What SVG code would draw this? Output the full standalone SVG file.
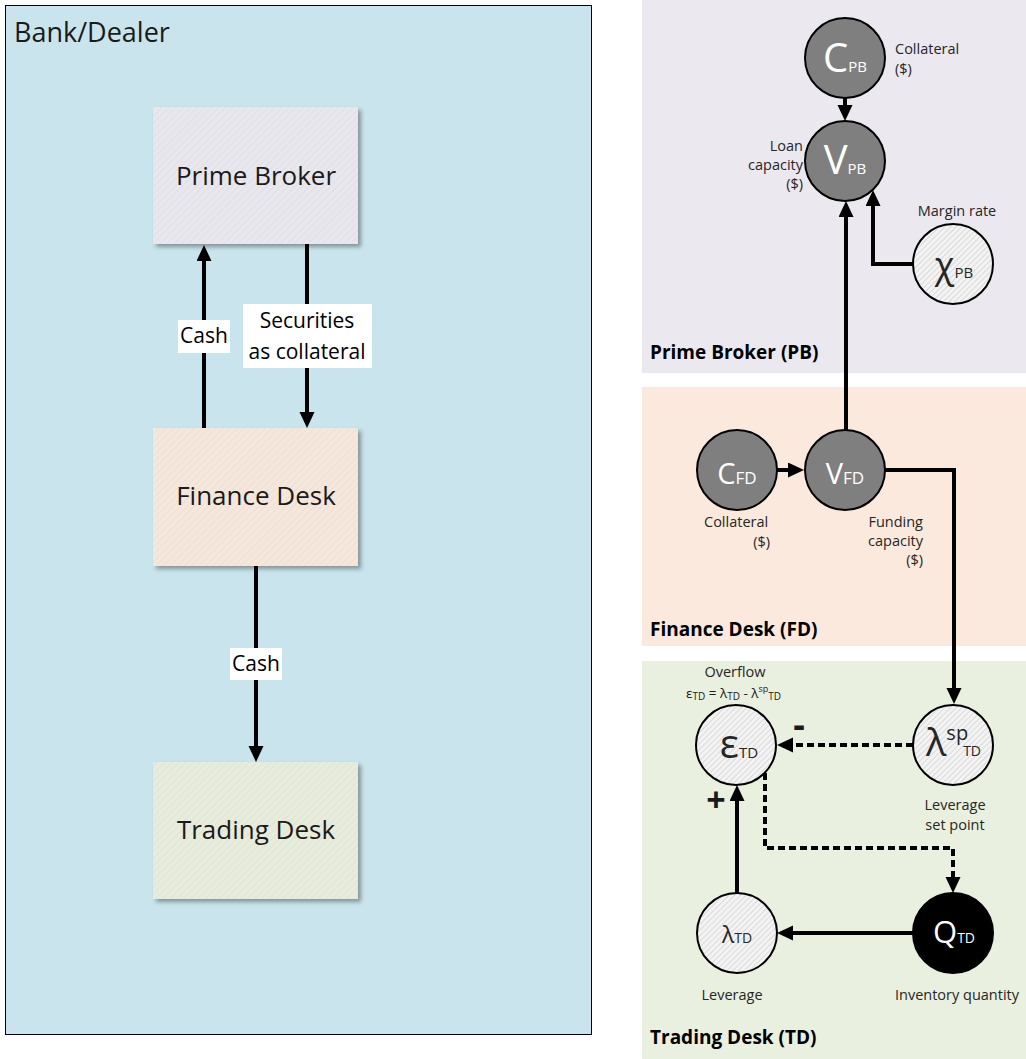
<svg xmlns="http://www.w3.org/2000/svg" width="1026" height="1059" viewBox="0 0 1026 1059">
  <defs>
    <style>
      text { font-family: "Open Sans", "Noto Sans", "DejaVu Sans", sans-serif; fill: #1a1a1a; }
      .box-label { font-size: 26px; text-anchor: middle; }
      .edge-label { font-size: 21px; text-anchor: middle; fill: #000; }
      .panel-title { font-size: 19px; font-weight: bold; fill: #000; }
      .note { font-size: 14.5px; fill: #262626; }
      .mid { text-anchor: middle; }
      .end { text-anchor: end; }
      .conn { fill: none; stroke: #000; stroke-width: 4; }
      .dash { stroke-dasharray: 7 4; }
      .dark { fill: #7f7f7f; stroke: #000; stroke-width: 2; }
      .black { fill: #000; stroke: #000; stroke-width: 2; }
      .light { fill: url(#hatch); stroke: #000; stroke-width: 2; }
      .wlet { fill: #fff; }
      .glet { fill: #262626; }
    </style>
    <!-- diagonal hatch fills -->
    <pattern id="hatch" width="4" height="4" patternUnits="userSpaceOnUse" patternTransform="rotate(45)">
      <rect width="4" height="4" fill="#f3f3f3"/>
      <line x1="0" y1="0" x2="0" y2="4" stroke="#c6c6c6" stroke-width="1.1"/>
    </pattern>
    <pattern id="hatchPB" width="5" height="5" patternUnits="userSpaceOnUse" patternTransform="rotate(45)">
      <rect width="5" height="5" fill="#e9e7ee"/>
      <line x1="0" y1="0" x2="0" y2="5" stroke="#dedbe4" stroke-width="1.5"/>
    </pattern>
    <pattern id="hatchFD" width="5" height="5" patternUnits="userSpaceOnUse" patternTransform="rotate(45)">
      <rect width="5" height="5" fill="#f6e7dd"/>
      <line x1="0" y1="0" x2="0" y2="5" stroke="#ecdcd1" stroke-width="1.5"/>
    </pattern>
    <pattern id="hatchTD" width="5" height="5" patternUnits="userSpaceOnUse" patternTransform="rotate(45)">
      <rect width="5" height="5" fill="#e8ecdd"/>
      <line x1="0" y1="0" x2="0" y2="5" stroke="#dde2d0" stroke-width="1.5"/>
    </pattern>
    <filter id="shadow" x="-10%" y="-10%" width="125%" height="125%">
      <feDropShadow dx="3" dy="3" stdDeviation="2" flood-color="#000" flood-opacity="0.35"/>
    </filter>
    <marker id="arrow" markerUnits="userSpaceOnUse" markerWidth="17" markerHeight="16" refX="1" refY="7.5" orient="auto">
      <path d="M0,0 L16,7.5 L0,15 z" fill="#000"/>
    </marker>
  </defs>

  <!-- ===== Left: Bank/Dealer overview ===== -->
  <g id="bank-dealer">
    <rect x="5.5" y="5.5" width="586" height="1029" fill="#c9e4ec" stroke="#000" stroke-width="1"/>
    <text x="14" y="42" font-size="27">Bank/Dealer</text>
  </g>

  <g id="box-prime-broker">
    <rect x="153" y="107" width="205" height="137" fill="url(#hatchPB)" filter="url(#shadow)"/>
    <text class="box-label" x="256" y="185">Prime Broker</text>
  </g>
  <g id="box-finance-desk">
    <rect x="153" y="428" width="205" height="138" fill="url(#hatchFD)" filter="url(#shadow)"/>
    <text class="box-label" x="256" y="505">Finance Desk</text>
  </g>
  <g id="box-trading-desk">
    <rect x="153" y="762" width="205" height="137" fill="url(#hatchTD)" filter="url(#shadow)"/>
    <text class="box-label" x="256" y="839">Trading Desk</text>
  </g>

  <g id="left-connectors">
    <line class="conn" x1="204" y1="428" x2="204" y2="260" marker-end="url(#arrow)"/>
    <line class="conn" x1="307" y1="244" x2="307" y2="413" marker-end="url(#arrow)"/>
    <line class="conn" x1="256" y1="566" x2="256" y2="747" marker-end="url(#arrow)"/>
    <rect x="178" y="320" width="52" height="33" fill="#fff"/>
    <text class="edge-label" x="204" y="343">Cash</text>
    <rect x="243" y="304" width="129" height="64" fill="#fff"/>
    <text class="edge-label" x="307" y="328">Securities</text>
    <text class="edge-label" x="307" y="359">as collateral</text>
    <rect x="230" y="648" width="52" height="32" fill="#fff"/>
    <text class="edge-label" x="256" y="671">Cash</text>
  </g>

  <!-- ===== Right: desk panels ===== -->
  <g id="panel-pb">
    <rect x="642" y="0" width="384" height="373" fill="#ebe8f0"/>
    <text class="panel-title" x="650" y="359">Prime Broker (PB)</text>
  </g>
  <g id="panel-fd">
    <rect x="642" y="387" width="384" height="259" fill="#fbe9dd"/>
    <text class="panel-title" x="650" y="636">Finance Desk (FD)</text>
  </g>
  <g id="panel-td">
    <rect x="642" y="661" width="384" height="398" fill="#e9f0df"/>
    <text class="panel-title" x="650" y="1044">Trading Desk (TD)</text>
  </g>

  <!-- connectors between state variables -->
  <g id="right-connectors">
    <line class="conn" x1="845" y1="98" x2="845" y2="106" marker-end="url(#arrow)"/>
    <line class="conn" x1="846" y1="430" x2="846" y2="216" marker-end="url(#arrow)"/>
    <polyline class="conn" points="913,264 873,264 873,205" marker-end="url(#arrow)"/>
    <line class="conn" x1="777" y1="470" x2="789" y2="470" marker-end="url(#arrow)"/>
    <polyline class="conn" points="885,470 954,470 954,689" marker-end="url(#arrow)"/>
    <line class="conn dash" x1="913" y1="745" x2="792" y2="745" marker-end="url(#arrow)"/>
    <polyline class="conn dash" points="765,773 765,848 953,848 953,878" marker-end="url(#arrow)"/>
    <line class="conn" x1="913" y1="933" x2="792" y2="933" marker-end="url(#arrow)"/>
    <line class="conn" x1="737" y1="893" x2="737" y2="800" marker-end="url(#arrow)"/>
    <text x="799" y="737" font-size="36" font-weight="bold" fill="#000" text-anchor="middle">-</text>
    <text x="716" y="812" font-size="34" font-weight="bold" fill="#000" text-anchor="middle">+</text>
  </g>

  <!-- Prime Broker variables -->
  <g id="node-c-pb">
    <circle class="dark" cx="845" cy="58" r="40"/>
    <text class="wlet" x="845" y="72" text-anchor="middle"><tspan font-size="40">C</tspan><tspan font-size="15">PB</tspan></text>
    <text class="note" x="895" y="54">Collateral</text>
    <text class="note" x="895" y="74">($)</text>
  </g>
  <g id="node-v-pb">
    <circle class="dark" cx="845" cy="161" r="40"/>
    <text class="wlet" x="845" y="174" text-anchor="middle"><tspan font-size="40">V</tspan><tspan font-size="15">PB</tspan></text>
    <text class="note end" x="803" y="151">Loan</text>
    <text class="note end" x="803" y="170">capacity</text>
    <text class="note end" x="803" y="189">($)</text>
  </g>
  <g id="node-chi-pb">
    <circle class="light" cx="953" cy="264" r="40"/>
    <text class="glet" x="954" y="278" text-anchor="middle"><tspan font-size="36">χ</tspan><tspan font-size="15">PB</tspan></text>
    <text class="note mid" x="957" y="216">Margin rate</text>
  </g>

  <!-- Finance Desk variables -->
  <g id="node-c-fd">
    <circle class="dark" cx="737" cy="470" r="40"/>
    <text class="wlet" x="737" y="484" text-anchor="middle"><tspan font-size="29">C</tspan><tspan font-size="17">FD</tspan></text>
    <text class="note" x="704" y="527">Collateral</text>
    <text class="note end" x="770" y="547">($)</text>
  </g>
  <g id="node-v-fd">
    <circle class="dark" cx="845" cy="470" r="40"/>
    <text class="wlet" x="845" y="484" text-anchor="middle"><tspan font-size="29">V</tspan><tspan font-size="17">FD</tspan></text>
    <text class="note end" x="923" y="527">Funding</text>
    <text class="note end" x="923" y="546">capacity</text>
    <text class="note end" x="923" y="565">($)</text>
  </g>

  <!-- Trading Desk variables -->
  <g id="node-eps-td">
    <circle class="light" cx="736" cy="745" r="40"/>
    <text class="glet" x="739" y="758" text-anchor="middle"><tspan font-size="40">ε</tspan><tspan font-size="15">TD</tspan></text>
    <text class="note mid" x="735" y="677">Overflow</text>
    <text x="686" y="698" font-size="13.5" fill="#262626"><tspan>ε</tspan><tspan font-size="10" dy="2">TD</tspan><tspan dy="-2"> = λ</tspan><tspan font-size="10" dy="2">TD</tspan><tspan dy="-2"> - λ</tspan><tspan font-size="9" dy="-6">sp</tspan><tspan font-size="10" dy="8">TD</tspan></text>
  </g>
  <g id="node-lsp-td">
    <circle class="light" cx="953" cy="745" r="40"/>
    <text class="glet" x="926" y="756"><tspan font-size="38">λ</tspan><tspan font-size="20" dy="-16">sp</tspan><tspan font-size="14" dy="16" dx="-5">TD</tspan></text>
    <text class="note mid" x="955" y="810">Leverage</text>
    <text class="note mid" x="955" y="830">set point</text>
  </g>
  <g id="node-lambda-td">
    <circle class="light" cx="737" cy="933" r="40"/>
    <text class="glet" x="737" y="943" text-anchor="middle"><tspan font-size="23">λ</tspan><tspan font-size="14">TD</tspan></text>
    <text class="note mid" x="732" y="1000">Leverage</text>
  </g>
  <g id="node-q-td">
    <circle class="black" cx="953" cy="933" r="40"/>
    <text class="wlet" x="954" y="943" text-anchor="middle"><tspan font-size="31">Q</tspan><tspan font-size="14">TD</tspan></text>
    <text class="note mid" x="957" y="1000">Inventory quantity</text>
  </g>
</svg>
